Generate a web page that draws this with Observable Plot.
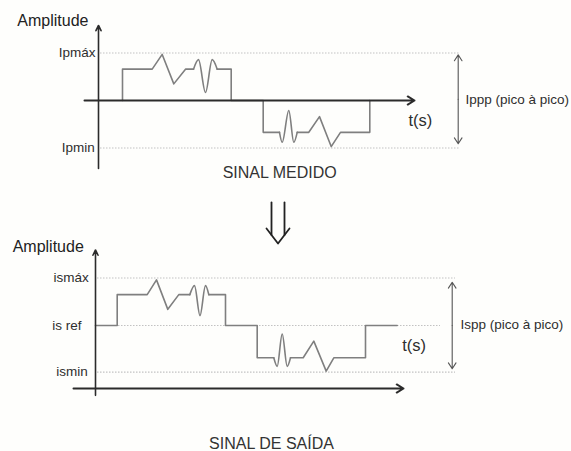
<!DOCTYPE html>
<html><head><meta charset="utf-8">
<script src="https://cdn.jsdelivr.net/npm/d3@7"></script>
<script src="https://cdn.jsdelivr.net/npm/@observablehq/plot@0.6"></script>
<style>
html,body{margin:0;padding:0;background:#fefefc;}
#fig{position:relative;width:571px;height:451px;overflow:hidden;}
#fig svg{position:absolute;left:0;overflow:visible;background:transparent;}
</style></head><body><div id="fig"></div>
<script>
// ---------- measured signal (SINAL MEDIDO) ----------
const medidoT = [2.7, 2.7, 5.67, 6.67, 7.83, 9.0, 9.8, 10.3, 11.0, 11.67, 12.17, 13.57, 13.57, 16.77, 16.77, 18.4, 18.67, 19.33, 19.83, 20.17, 21.33, 22.4, 23.57, 24.5, 27.43, 27.43];
const medidoA = [0, 0.66, 0.66, 0.97, 0.35, 0.66, 0.66, 0.86, 0.17, 0.86, 0.66, 0.66, 0, 0, -0.67, -0.67, -0.88, -0.21, -0.88, -0.67, -0.67, -0.34, -0.97, -0.67, -0.67, 0];
const medidoSmooth = [[6, 10], [15, 19]];
const medidoRefNames = ["Ipmáx", "Ipmin"];
const medidoRefValues = [1, -1];
const medidoRefLabelT = [0, -0.07];

// ---------- output signal (SINAL DE SAÍDA) ----------
const saidaT = [0, 2.17, 2.17, 5.17, 6.1, 7.23, 8.33, 9.43, 9.9, 10.45, 11.0, 11.33, 13.0, 13.0, 16.17, 16.17, 17.83, 18.17, 18.67, 19.17, 19.5, 20.77, 21.83, 23.07, 23.83, 27.0, 27.0, 30.17];
const saidaA = [0, 0, 0.65, 0.65, 0.96, 0.34, 0.65, 0.65, 0.84, 0.21, 0.84, 0.65, 0.65, 0, 0, -0.68, -0.68, -0.86, -0.18, -0.86, -0.68, -0.68, -0.33, -0.96, -0.68, -0.68, 0, 0];
const saidaSmooth = [[7, 11], [16, 20]];
const saidaRefNames = ["ismáx", "is ref", "ismin"];
const saidaRefValues = [1, 0, -0.98];
const saidaRefLabelT = [-0.67, -1.4, -0.77];

const signalColor = "#7f7f7f", axisColor = "#2b2b2b", refColor = "#c2c2c2", textColor = "#2e2e2e";
const font = "Liberation Sans, Arial, sans-serif";

function pieces(T, A, smooth) {
  const lin = [], cur = [];
  let start = 0, id = 0;
  for (const [a, b] of smooth) {
    for (let i = start; i <= a; i++) lin.push({t: T[i], a: A[i], p: id});
    id++;
    for (let i = a; i <= b; i++) cur.push({t: T[i], a: A[i], p: id});
    id++;
    start = b;
  }
  for (let i = start; i < T.length; i++) lin.push({t: T[i], a: A[i], p: id});
  return {lin, cur};
}

function panel(opts) {
  const {T, A, smooth, refNames, refValues, refLabelT, refX2, refToRef,
         axisX, axisY, originT, ampLabel, picoLabel, picoT, picoLabelT, picoEnds,
         tsT, height, yTop, extra} = opts;
  const {lin, cur} = pieces(T, A, smooth);
  const refs = refNames.map((n, i) => ({name: n, v: refValues[i], lt: refLabelT[i],
    x1: originT + 0.2, x2: (n === "is ref") ? refToRef : refX2}));
  const picoMid = (picoEnds[0] + picoEnds[1]) / 2;
  const svg = Plot.plot({
    width: 571, height,
    marginTop: 0, marginBottom: 0, marginLeft: 0, marginRight: 0,
    x: {domain: [-9.5, 47.6], axis: null},
    y: {domain: [yTop - height / 47.5, yTop], axis: null},
    style: {background: "transparent", overflow: "visible"},
    marks: [
      Plot.ruleY(refs, {y: "v", x1: "x1", x2: "x2", stroke: refColor, strokeWidth: 1.2, strokeDasharray: "1.5,1.5"}),
      Plot.line(lin, {x: "t", y: "a", z: "p", stroke: signalColor, strokeWidth: 1.6}),
      Plot.line(cur, {x: "t", y: "a", z: "p", stroke: signalColor, strokeWidth: 1.6, curve: "monotone-x"}),
      Plot.arrow([{x1: axisX[0], y1: axisY[2], x2: axisX[1], y2: axisY[2]}],
        {x1: "x1", y1: "y1", x2: "x2", y2: "y2", stroke: axisColor, strokeWidth: 2, headLength: 5.9, headAngle: 62}),
      Plot.arrow([{x1: originT, y1: axisY[0], x2: originT, y2: axisY[1]}],
        {x1: "x1", y1: "y1", x2: "x2", y2: "y2", stroke: axisColor, strokeWidth: 1.6, headLength: 5.5, headAngle: 52}),
      Plot.arrow([{y2: picoEnds[0]}, {y2: picoEnds[1]}],
        {x1: picoT, x2: picoT, y1: picoMid, y2: "y2", stroke: "#555", strokeWidth: 1.1, headLength: 9.5, headAngle: 66}),
      Plot.text(refs, {x: "lt", y: "v", text: "name", textAnchor: "end", fontSize: 13.5, fill: textColor, fontFamily: font}),
      Plot.text([ampLabel], {x: "t", y: "a", text: "s", textAnchor: "end", fontSize: 16, fill: "#222", fontFamily: font}),
      Plot.text([picoLabel], {x: picoLabelT, y: 0.02, text: d => d, textAnchor: "start", fontSize: 13.5, fill: textColor, fontFamily: font}),
      Plot.text(["t(s)"], {x: tsT, y: -0.42, text: d => d, textAnchor: "start", fontSize: 16.5, fill: textColor, fontFamily: font}),
      ...extra
    ]
  });
  return svg;
}

// double arrow "⇓" between the panels
const downArrowT = [17.6, 17.6, 18.9, 18.9, 17.1, 18.25, 19.4];
const downArrowA = [-2.147, -2.832, -2.147, -2.832, -2.695, -3.011, -2.695];
const downArrowPart = [0, 0, 1, 1, 2, 2, 2];
const downArrow = downArrowT.map((t, i) => ({t, a: downArrowA[i], p: downArrowPart[i]}));

const fig = document.getElementById("fig");

const topPanel = panel({
  T: medidoT, A: medidoA, smooth: medidoSmooth,
  refNames: medidoRefNames, refValues: medidoRefValues, refLabelT: medidoRefLabelT,
  refX2: 36.5, refToRef: 36.5,
  axisX: [-1.1, 31.9], axisY: [-1.43, 1.58, 0], originT: 0.3,
  ampLabel: {s: "Amplitude", t: -0.7, a: 1.686},
  picoLabel: "Ippp (pico à pico)", picoT: 36.27, picoLabelT: 37.0, picoEnds: [0.96, -0.91],
  tsT: 31.3, height: 250, yTop: 100 / 47.5,
  extra: [
    Plot.text(["SINAL MEDIDO"], {x: 18.42, y: -1.52, text: d => d, fontSize: 16, fill: "#333", fontFamily: font}),
    Plot.line(downArrow, {x: "t", y: "a", z: "p", stroke: "#222", strokeWidth: 1.8})
  ]
});
topPanel.style.top = "0px";
fig.appendChild(topPanel);

const bottomPanel = panel({
  T: saidaT, A: saidaA, smooth: saidaSmooth,
  refNames: saidaRefNames, refValues: saidaRefValues, refLabelT: saidaRefLabelT,
  refX2: 36.0, refToRef: 34.5,
  axisX: [-2.2, 30.8], axisY: [-1.47, 1.59, -1.326], originT: 0,
  ampLabel: {s: "Amplitude", t: -1.17, a: 1.65},
  picoLabel: "Ispp (pico à pico)", picoT: 35.67, picoLabelT: 36.5, picoEnds: [0.91, -0.91],
  tsT: 30.67, height: 226, yTop: 100 / 47.5,
  extra: [
    Plot.text(["SINAL DE SAÍDA"], {x: 17.6, y: -2.5, text: d => d, fontSize: 16, fill: "#333", fontFamily: font})
  ]
});
bottomPanel.style.top = "225px";
fig.appendChild(bottomPanel);
</script></body></html>
